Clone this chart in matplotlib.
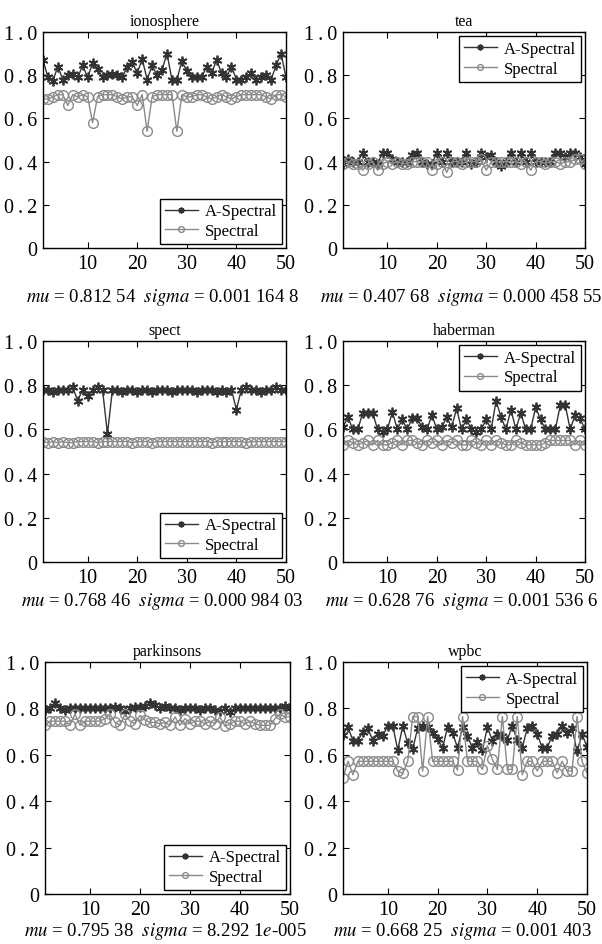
import numpy as np
import matplotlib
matplotlib.use("Agg")
import matplotlib.pyplot as plt

plt.rcParams['font.family'] = ['Liberation Serif', 'DejaVu Serif']
plt.rcParams['mathtext.fontset'] = 'stix'

# data (50 runs per data set)
#------------------------------------------------
runs = np.arange(1, 51)

iono_a = [0.87, 0.79, 0.775, 0.84, 0.78, 0.80, 0.805, 0.79, 0.845, 0.79,
          0.855, 0.83, 0.79, 0.80, 0.805, 0.80, 0.79, 0.84, 0.86, 0.81,
          0.875, 0.78, 0.845, 0.80, 0.825, 0.90, 0.78, 0.78, 0.865, 0.82,
          0.79, 0.79, 0.79, 0.84, 0.81, 0.87, 0.81, 0.79, 0.84, 0.78,
          0.78, 0.79, 0.81, 0.78, 0.79, 0.80, 0.78, 0.845, 0.90, 0.79]
iono_s = [0.69, 0.69, 0.70, 0.71, 0.71, 0.66, 0.71, 0.70, 0.71, 0.70,
          0.58, 0.70, 0.71, 0.71, 0.71, 0.70, 0.69, 0.70, 0.70, 0.66,
          0.71, 0.54, 0.70, 0.71, 0.71, 0.71, 0.71, 0.54, 0.71, 0.70,
          0.70, 0.71, 0.71, 0.70, 0.69, 0.70, 0.71, 0.70, 0.69, 0.70,
          0.71, 0.71, 0.71, 0.71, 0.71, 0.70, 0.69, 0.71, 0.71, 0.70]

tea_a = [0.39, 0.41, 0.40, 0.40, 0.44, 0.40, 0.40, 0.39, 0.44, 0.44,
         0.41, 0.40, 0.40, 0.40, 0.43, 0.44, 0.40, 0.39, 0.39, 0.44,
         0.40, 0.44, 0.40, 0.40, 0.40, 0.44, 0.39, 0.40, 0.44, 0.42,
         0.43, 0.40, 0.38, 0.40, 0.44, 0.40, 0.44, 0.40, 0.44, 0.40,
         0.40, 0.40, 0.40, 0.44, 0.44, 0.42, 0.44, 0.44, 0.42, 0.39]
tea_s = [0.39, 0.40, 0.39, 0.39, 0.36, 0.39, 0.40, 0.36, 0.39, 0.40,
         0.39, 0.40, 0.39, 0.39, 0.40, 0.40, 0.40, 0.40, 0.36, 0.39,
         0.40, 0.35, 0.40, 0.40, 0.39, 0.40, 0.40, 0.40, 0.41, 0.36,
         0.40, 0.40, 0.40, 0.40, 0.40, 0.40, 0.39, 0.40, 0.36, 0.40,
         0.40, 0.39, 0.40, 0.40, 0.39, 0.40, 0.40, 0.41, 0.41, 0.39]

spect_a = [0.78, 0.78, 0.77, 0.78, 0.78, 0.78, 0.79, 0.73, 0.78, 0.75,
           0.78, 0.79, 0.78, 0.58, 0.78, 0.78, 0.77, 0.78, 0.78, 0.77,
           0.78, 0.78, 0.77, 0.78, 0.78, 0.78, 0.77, 0.78, 0.78, 0.78,
           0.78, 0.77, 0.78, 0.78, 0.78, 0.77, 0.78, 0.77, 0.78, 0.69,
           0.78, 0.79, 0.78, 0.78, 0.77, 0.78, 0.78, 0.79, 0.78, 0.78]
spect_s = [0.545, 0.54, 0.545, 0.54, 0.545, 0.54, 0.54, 0.545, 0.545, 0.545,
           0.545, 0.54, 0.545, 0.545, 0.545, 0.545, 0.545, 0.545, 0.54, 0.545,
           0.545, 0.545, 0.54, 0.545, 0.545, 0.545, 0.545, 0.545, 0.545, 0.545,
           0.545, 0.545, 0.545, 0.545, 0.54, 0.545, 0.545, 0.545, 0.545, 0.545,
           0.545, 0.54, 0.545, 0.545, 0.545, 0.545, 0.545, 0.545, 0.545, 0.545]

hab_a = [0.61, 0.655, 0.60, 0.60, 0.675, 0.675, 0.675, 0.60, 0.59, 0.60,
         0.68, 0.60, 0.645, 0.60, 0.65, 0.65, 0.61, 0.60, 0.665, 0.60,
         0.61, 0.655, 0.61, 0.695, 0.60, 0.645, 0.60, 0.59, 0.60, 0.645,
         0.60, 0.73, 0.655, 0.60, 0.69, 0.60, 0.675, 0.60, 0.60, 0.70,
         0.645, 0.60, 0.60, 0.60, 0.71, 0.71, 0.60, 0.665, 0.65, 0.60]
hab_s = [0.53, 0.55, 0.54, 0.53, 0.54, 0.55, 0.53, 0.55, 0.53, 0.53,
         0.54, 0.55, 0.53, 0.55, 0.55, 0.54, 0.53, 0.55, 0.54, 0.55,
         0.53, 0.55, 0.54, 0.55, 0.53, 0.53, 0.55, 0.54, 0.53, 0.55,
         0.53, 0.55, 0.54, 0.53, 0.53, 0.55, 0.54, 0.53, 0.53, 0.53,
         0.53, 0.54, 0.55, 0.55, 0.55, 0.55, 0.55, 0.53, 0.55, 0.53]

park_a = [0.795, 0.80, 0.825, 0.80, 0.795, 0.80, 0.80, 0.80, 0.80, 0.80,
          0.80, 0.80, 0.80, 0.80, 0.805, 0.80, 0.79, 0.80, 0.805, 0.805,
          0.81, 0.825, 0.815, 0.80, 0.81, 0.80, 0.80, 0.795, 0.80, 0.80,
          0.80, 0.795, 0.80, 0.80, 0.795, 0.79, 0.80, 0.785, 0.80, 0.80,
          0.80, 0.80, 0.80, 0.80, 0.80, 0.80, 0.80, 0.80, 0.81, 0.80]
park_s = [0.727, 0.745, 0.745, 0.745, 0.745, 0.727, 0.775, 0.727, 0.745, 0.745,
          0.745, 0.745, 0.756, 0.775, 0.74, 0.727, 0.775, 0.745, 0.734, 0.77,
          0.75, 0.74, 0.74, 0.734, 0.74, 0.727, 0.763, 0.727, 0.756, 0.734,
          0.745, 0.745, 0.734, 0.745, 0.734, 0.763, 0.723, 0.734, 0.745, 0.745,
          0.734, 0.745, 0.734, 0.727, 0.727, 0.727, 0.756, 0.775, 0.763, 0.763]

wpbc_a = [0.687, 0.72, 0.66, 0.66, 0.70, 0.715, 0.66, 0.69, 0.683, 0.725,
          0.725, 0.62, 0.725, 0.65, 0.625, 0.715, 0.725, 0.72, 0.694, 0.668,
          0.63, 0.72, 0.694, 0.63, 0.72, 0.68, 0.63, 0.655, 0.62, 0.72,
          0.66, 0.69, 0.68, 0.665, 0.725, 0.662, 0.63, 0.715, 0.725, 0.69,
          0.63, 0.63, 0.683, 0.69, 0.725, 0.694, 0.715, 0.615, 0.69, 0.634]
wpbc_s = [0.50, 0.572, 0.514, 0.572, 0.572, 0.572, 0.572, 0.572, 0.572, 0.572,
          0.572, 0.53, 0.52, 0.572, 0.765, 0.765, 0.53, 0.765, 0.572, 0.572,
          0.572, 0.572, 0.572, 0.534, 0.765, 0.572, 0.572, 0.572, 0.537, 0.64,
          0.58, 0.537, 0.765, 0.537, 0.537, 0.765, 0.514, 0.572, 0.572, 0.53,
          0.572, 0.572, 0.572, 0.522, 0.572, 0.53, 0.53, 0.765, 0.572, 0.522]

titles = ["ionosphere", "tea", "spect", "haberman", "parkinsons", "wpbc"]
series_a = [iono_a, tea_a, spect_a, hab_a, park_a, wpbc_a]
series_s = [iono_s, tea_s, spect_s, hab_s, park_s, wpbc_s]
legend_loc = ["lower right", "upper right", "lower right",
              "upper right", "lower right", "upper right"]
stats = [r"$mu$ = 0.812 54  $sigma$ = 0.001 164 8",
         r"$mu$ = 0.407 68  $sigma$ = 0.000 458 55",
         r"$mu$ = 0.768 46  $sigma$ = 0.000 984 03",
         r"$mu$ = 0.628 76  $sigma$ = 0.001 536 6",
         r"$mu$ = 0.795 38  $sigma$ = 8.292 1$e$-005",
         r"$mu$ = 0.668 25  $sigma$ = 0.001 403"]
ytick_vals = [0, 0.2, 0.4, 0.6, 0.8, 1.0]
ytick_text = ["0", "0\u2009.\u20092", "0\u2009.\u20094", "0\u2009.\u20096",
              "0\u2009.\u20098", "1\u2009.\u20090"]

# axes boxes in figure pixels: left, top, right, bottom
#------------------------------------------------
W, H = 602, 945
boxes = [(43, 33, 286, 249), (343, 33, 585, 249),
         (43, 342, 286, 563), (343, 342, 585, 563),
         (45, 663, 290, 895), (343, 663, 587, 895)]
stat_y = [297, 297, 602, 602, 932, 932]

fig = plt.figure(figsize=(W / 100, H / 100), dpi=100)

for k in range(6):
    l, t, r, b = boxes[k]
    ax = fig.add_axes([l / W, 1 - b / H, (r - l) / W, (b - t) / H])
    ax.plot(runs, series_a[k], color='#333333', lw=1.0, marker=(6, 2, 0),
            markersize=7, markeredgewidth=1.3, label='A-Spectral')
    ax.plot(runs, series_s[k], color='#8a8a8a', lw=1.0, marker='o',
            markersize=7, markerfacecolor='none', markeredgewidth=1.0,
            label='Spectral')
    ax.set_xlim(1, 50)
    ax.set_ylim(0, 1.0)
    ax.set_xticks([10, 20, 30, 40, 50])
    ax.set_yticks(ytick_vals)
    ax.set_yticklabels(ytick_text)
    ax.tick_params(direction='in', top=True, right=True, length=4,
                   labelsize=14.5, pad=4)
    for s in ax.spines.values():
        s.set_linewidth(1.0)
    ax.set_title(titles[k], fontsize=11.5, pad=5)
    leg = ax.legend(loc=legend_loc[k], fontsize=12, markerscale=0.6,
                    fancybox=False, framealpha=1, edgecolor='black',
                    borderaxespad=0.25, borderpad=0.3, labelspacing=0.2,
                    handletextpad=0.4)
    leg.get_frame().set_linewidth(1.0)
    fig.text((l + r) / 2 / W - 0.004, 1 - stat_y[k] / H, stats[k],
             fontsize=13.5, ha='center', va='center')

fig.savefig("out.png", dpi=100)
